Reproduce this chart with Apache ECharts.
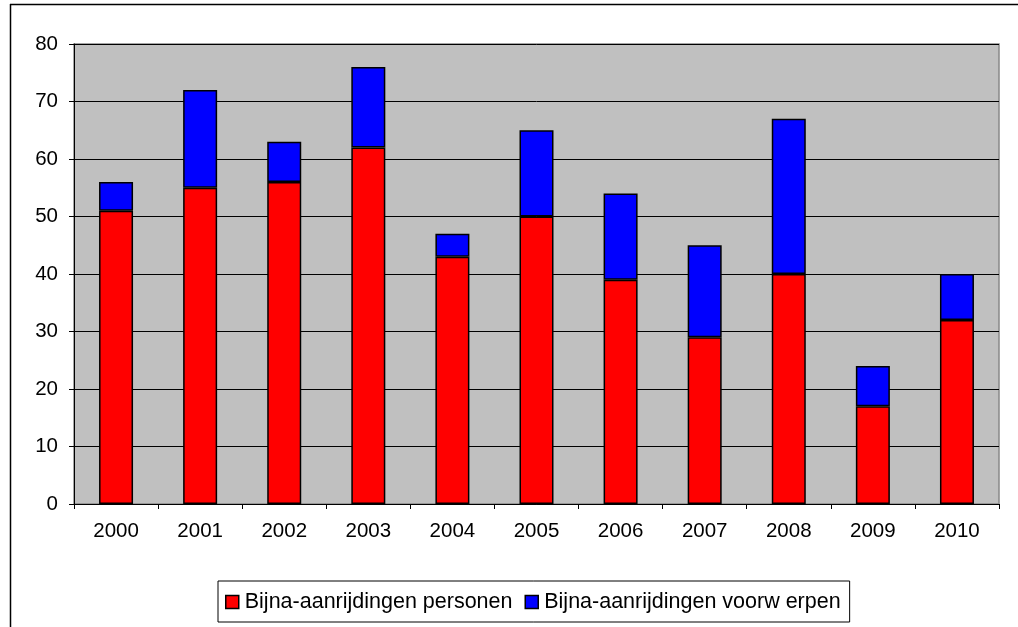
<!DOCTYPE html>
<html>
<head>
<meta charset="utf-8">
<script src="https://cdn.jsdelivr.net/npm/echarts@6/dist/echarts.min.js"></script>
<style>
  html, body { margin: 0; padding: 0; background: #fff; }
  #chart { width: 1018px; height: 627px; }
</style>
</head>
<body>
<div id="chart"></div>
<script>
var years = ["2000","2001","2002","2003","2004","2005","2006","2007","2008","2009","2010"];
var personen = [51, 55, 56, 62, 43, 50, 39, 29, 40, 17, 32];
var voorwerpen = [5, 17, 7, 14, 4, 15, 15, 16, 27, 7, 8];
var seriesNames = ["Bijna-aanrijdingen personen", "Bijna-aanrijdingen voorw erpen"];
var colors = ["#ff0000", "#0000ff"];

var font = "Liberation Sans, Arial, sans-serif";
var chart = echarts.init(document.getElementById("chart"));

chart.setOption({
  animation: false,
  textStyle: { fontFamily: font },
  graphic: [
    { type: "line", shape: { x1: 10, y1: 4.5, x2: 1018, y2: 4.5 }, style: { stroke: "#000", lineWidth: 1.5 } },
    { type: "line", shape: { x1: 10.5, y1: 4, x2: 10.5, y2: 627 }, style: { stroke: "#000", lineWidth: 1.5 } }
  ],
  grid: {
    left: 74, right: 19, top: 44, bottom: 123,
    show: true, backgroundColor: "#c0c0c0", borderColor: "#888", borderWidth: 1.5
  },
  legend: {
    left: 218, top: 581,
    icon: "rect", itemWidth: 13, itemHeight: 13, itemGap: 12,
    padding: [10, 9, 9, 7],
    borderColor: "#000", borderWidth: 1,
    itemStyle: { borderColor: "#000", borderWidth: 1.5 },
    textStyle: { fontSize: 21.5, color: "#000", fontFamily: font, padding: [0, 0, 0, 1] },
    data: seriesNames
  },
  xAxis: {
    type: "category",
    data: years,
    axisLine: { lineStyle: { color: "#000", width: 1 } },
    axisTick: { show: true, length: 5, lineStyle: { color: "#000" } },
    axisLabel: { fontSize: 20.5, color: "#000", margin: 17, fontFamily: font }
  },
  yAxis: {
    type: "value",
    min: 0, max: 80, interval: 10,
    axisLine: { show: true, lineStyle: { color: "#000", width: 1 } },
    axisTick: { show: true, length: 5, lineStyle: { color: "#000" } },
    axisLabel: { fontSize: 20.5, color: "#000", margin: 16, fontFamily: font },
    splitLine: { lineStyle: { color: "#000", width: 1 } }
  },
  series: [
    {
      name: seriesNames[0], type: "bar", stack: "total", data: personen,
      barWidth: 34,
      itemStyle: { color: colors[0], borderColor: "#000", borderWidth: 1.5 }
    },
    {
      name: seriesNames[1], type: "bar", stack: "total", data: voorwerpen,
      barWidth: 34,
      itemStyle: { color: colors[1], borderColor: "#000", borderWidth: 1.5 }
    }
  ]
});
</script>
</body>
</html>
